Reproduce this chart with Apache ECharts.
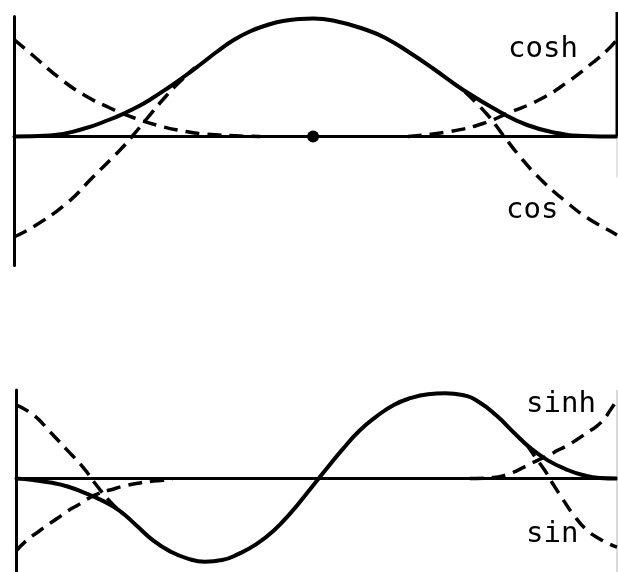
<!DOCTYPE html>
<html>
<head>
<meta charset="utf-8">
<title>Beam mode shapes</title>
<script src="https://cdn.jsdelivr.net/npm/echarts@6/dist/echarts.min.js"></script>
<style>
  html, body { margin: 0; padding: 0; background: #fff; }
  #chart { width: 618px; height: 572px; }
</style>
</head>
<body>
<div id="chart"></div>
<script>
// Position along the beam runs 0..100; deflections in arbitrary units.

// Upper panel: symmetric mode and its cosh / cos parts
const modeSymX = [0, 6.0, 11.4, 15.9, 18.4, 20.9, 22.6, 25.4, 28.0, 30.9, 33.7, 36.3, 39.1, 42.0, 44.6, 47.4, 49.6, 52.9, 58.5, 61.9, 65.7, 69.5, 74.5, 80.6, 85.1, 90.0, 94.4, 100];
const modeSymY = [0, 0.01, 0.075, 0.17, 0.235, 0.31, 0.37, 0.48, 0.59, 0.72, 0.85, 0.96, 1.05, 1.115, 1.155, 1.175, 1.18, 1.16, 1.065, 0.975, 0.835, 0.68, 0.465, 0.245, 0.115, 0.035, 0.005, 0];

const coshLeftX = [0, 3.15, 7.63, 11.77, 15.92, 19.73, 24.21, 28.69, 32.01, 37.48, 40.8];
const coshLeftY = [0.97, 0.81, 0.58, 0.41, 0.285, 0.19, 0.105, 0.048, 0.022, 0.005, 0];
const coshRightX = [65.3, 72.3, 77.8, 81.8, 87.2, 91.7, 96.0, 98.5, 100];
const coshRightY = [0, 0.05, 0.13, 0.23, 0.37, 0.54, 0.74, 0.87, 0.97];

const cosLeftX = [0, 3.15, 8.79, 13.10, 17.58, 19.57, 22.06, 24.71, 27.53, 30.02];
const cosLeftY = [-1.005, -0.905, -0.665, -0.405, -0.135, 0.0, 0.18, 0.37, 0.55, 0.69];
const cosRightX = [74.8, 78.4, 81.1, 83.9, 87.2, 91.7, 95.0, 99.3, 100];
const cosRightY = [0.445, 0.225, 0.015, -0.2, -0.42, -0.66, -0.81, -0.96, -0.985];

const midNode = [[49.6, 0]];

// Lower panel: antisymmetric mode and its sinh / sin parts
const modeAntiX = [0, 2.86, 5.71, 8.57, 11.43, 14.29, 17.14, 20.00, 22.86, 25.71, 28.57, 31.43, 34.29, 37.14, 40.00, 42.86, 45.71, 48.57, 51.43, 54.29, 57.14, 60.00, 62.86, 65.71, 68.57, 71.43, 74.29, 77.14, 80.00, 82.86, 85.71, 88.57, 91.43, 94.29, 97.14, 100];
const modeAntiY = [0, -0.015, -0.04, -0.08, -0.145, -0.22, -0.32, -0.47, -0.625, -0.735, -0.805, -0.836, -0.82, -0.755, -0.66, -0.525, -0.345, -0.135, 0.08, 0.29, 0.48, 0.625, 0.74, 0.81, 0.848, 0.858, 0.84, 0.765, 0.63, 0.46, 0.30, 0.18, 0.095, 0.035, 0.005, 0];

const sinLeftX = [0, 2.88, 5.66, 8.44, 11.20, 13.43, 15.64, 17.85];
const sinLeftY = [0.74, 0.64, 0.47, 0.29, 0.11, -0.07, -0.23, -0.36];
const sinRightX = [85.0, 86.7, 88.0, 89.4, 91.0, 92.7, 95.0, 97.2, 98.8, 100];
const sinRightY = [0.34, 0.19, 0.08, -0.06, -0.21, -0.36, -0.52, -0.61, -0.66, -0.69];

const sinhLeftX = [0, 1.8, 3.6, 5.2, 6.9, 8.5, 10.5, 11.5, 13.4, 16.5, 18.4, 20.6, 22.3, 24.0, 26.0];
const sinhLeftY = [-0.73, -0.62, -0.54, -0.47, -0.40, -0.33, -0.26, -0.22, -0.16, -0.10, -0.07, -0.045, -0.03, -0.02, -0.01];
const sinhRightX = [75.5, 79.4, 81.7, 83.4, 85.0, 86.7, 88.9, 90.0, 91.7, 93.3, 95.0, 96.7, 98.0, 98.8, 100];
const sinhRightY = [0, 0.01, 0.04, 0.08, 0.13, 0.18, 0.24, 0.28, 0.33, 0.39, 0.46, 0.53, 0.61, 0.68, 0.79];

// Right-hand supports
const upperSupportX = [100, 100];
const upperSupportY = [1.245, 0];
const upperSupportFaintY = [0, -0.41];
const lowerSupportX = [100, 100];
const lowerSupportY = [0.89, -0.94];

const labelTexts = ['cosh', 'cos', 'sinh', 'sin'];

function zip(xs, ys) { return xs.map((x, i) => [x, ys[i]]); }

const INK = '#000';
const DASH = [14, 8];

function solid(xs, ys, g) {
  return {
    type: 'line', xAxisIndex: g, yAxisIndex: g, data: zip(xs, ys),
    symbol: 'none', smooth: 0.5, silent: true,
    lineStyle: { color: INK, width: 4 }, z: 3
  };
}
function dashed(xs, ys, g) {
  return {
    type: 'line', xAxisIndex: g, yAxisIndex: g, data: zip(xs, ys),
    symbol: 'none', smooth: 0.5, silent: true,
    lineStyle: { color: INK, width: 3.5, type: DASH, cap: 'butt' }, z: 2
  };
}
function rule(xs, ys, g, color, width) {
  return {
    type: 'line', xAxisIndex: g, yAxisIndex: g, data: zip(xs, ys),
    symbol: 'none', clip: false, silent: true,
    lineStyle: { color: color, width: width }, z: 1
  };
}

function axisPair(g, min, max) {
  const hidden = { axisTick: { show: false }, axisLabel: { show: false }, splitLine: { show: false } };
  return {
    x: Object.assign({
      gridIndex: g, type: 'value', min: 0, max: 100,
      axisLine: { show: true, onZero: true, lineStyle: { color: INK, width: 3 } }
    }, hidden),
    y: Object.assign({
      gridIndex: g, type: 'value', min: min, max: max,
      axisLine: { show: true, lineStyle: { color: INK, width: 3 } }
    }, hidden)
  };
}

const upperAxes = axisPair(0, -1.29, 1.2);
const lowerAxes = axisPair(1, -0.94, 0.89);

const labelFont = '29px "DejaVu Sans Mono", "Liberation Mono", monospace';
function label(text, x, y) {
  return {
    type: 'text', x: x, y: y, silent: true,
    style: { text: text, font: labelFont, fill: INK, textVerticalAlign: 'middle', verticalAlign: 'middle' }
  };
}

const chart = echarts.init(document.getElementById('chart'), null, { renderer: 'canvas' });
chart.setOption({
  animation: false,
  backgroundColor: '#fff',
  grid: [
    { left: 14, top: 16.5, width: 603, height: 249 },
    { left: 16, top: 390, width: 601, height: 183 }
  ],
  xAxis: [upperAxes.x, lowerAxes.x],
  yAxis: [upperAxes.y, lowerAxes.y],
  graphic: [
    label(labelTexts[0], 508, 49),
    label(labelTexts[1], 506, 210),
    label(labelTexts[2], 526, 404),
    label(labelTexts[3], 526, 534)
  ],
  series: [
    rule(upperSupportX, upperSupportY, 0, INK, 3),
    rule(upperSupportX, upperSupportFaintY, 0, '#c8c8c8', 1),
    rule(lowerSupportX, lowerSupportY, 1, '#c0c0c0', 1.2),
    solid(modeSymX, modeSymY, 0),
    dashed(coshLeftX, coshLeftY, 0),
    dashed(coshRightX, coshRightY, 0),
    dashed(cosLeftX, cosLeftY, 0),
    dashed(cosRightX, cosRightY, 0),
    {
      type: 'scatter', xAxisIndex: 0, yAxisIndex: 0, data: midNode,
      symbol: 'circle', symbolSize: 12, silent: true,
      itemStyle: { color: INK, opacity: 1 }, z: 4
    },
    solid(modeAntiX, modeAntiY, 1),
    dashed(sinLeftX, sinLeftY, 1),
    dashed(sinRightX, sinRightY, 1),
    dashed(sinhLeftX, sinhLeftY, 1),
    dashed(sinhRightX, sinhRightY, 1)
  ]
});
</script>
</body>
</html>
